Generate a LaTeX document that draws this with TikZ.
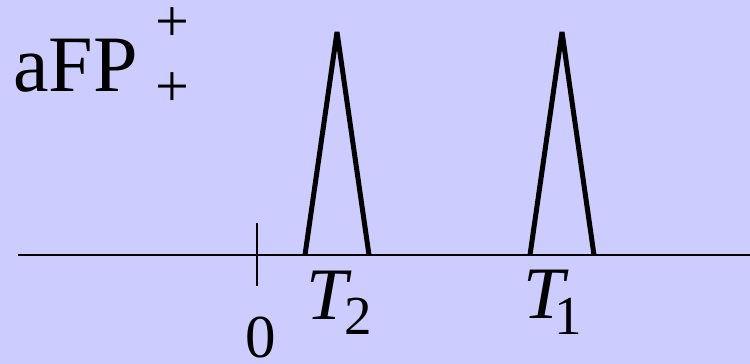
\documentclass[tikz,border=0pt]{standalone}
\usepackage{fontspec}
\setmainfont{Liberation Serif}
\definecolor{bg}{RGB}{204,204,255}
\begin{document}
\begin{tikzpicture}[x=1pt,y=1pt,
  lbl/.style={inner sep=0pt,outer sep=0pt,anchor=base west},
  axisline/.style={line width=2pt,black},
  peak/.style={line width=5pt,black,line join=bevel}]
\fill[bg] (0,0) rectangle (750,364);
\useasboundingbox (0,0) rectangle (750,364);
% axis
\coordinate (axL) at (18,109);
\coordinate (axR) at (750,109);
\draw[axisline] (axL) -- (axR);
\coordinate (tickT) at (257,141);
\coordinate (tickB) at (257,78);
\draw[axisline] (tickT) -- (tickB);
% peaks
\coordinate (p2l) at (305,109);
\coordinate (p2a) at (337,332);
\coordinate (p2r) at (369,109);
\draw[peak] (p2l) -- (p2a) -- (p2r);
\coordinate (p1l) at (530,109);
\coordinate (p1a) at (562,332);
\coordinate (p1r) at (594,109);
\draw[peak] (p1l) -- (p1a) -- (p1r);
% labels
\node[lbl,font=\fontsize{80}{80}\selectfont] (afp) at (13,272) {aFP};
\node[inner sep=0pt,outer sep=0pt,font=\fontsize{60}{60}\selectfont] (sup) at (172,339) {+};
\node[inner sep=0pt,outer sep=0pt,font=\fontsize{60}{60}\selectfont] (sub) at (172,274) {+};
\node[lbl,font=\fontsize{61}{61}\selectfont] (zero) at (245,6) {0};
\node[lbl,font=\fontsize{74}{74}\selectfont\itshape] (t2) at (306,44) {T};
\node[lbl,font=\fontsize{55}{55}\selectfont] (s2) at (344,29) {2};
\node[lbl,font=\fontsize{74}{74}\selectfont\itshape] (t1) at (523,45) {T};
\node[lbl,font=\fontsize{55}{55}\selectfont] (s1) at (554,29) {1};
\end{tikzpicture}
\end{document}
